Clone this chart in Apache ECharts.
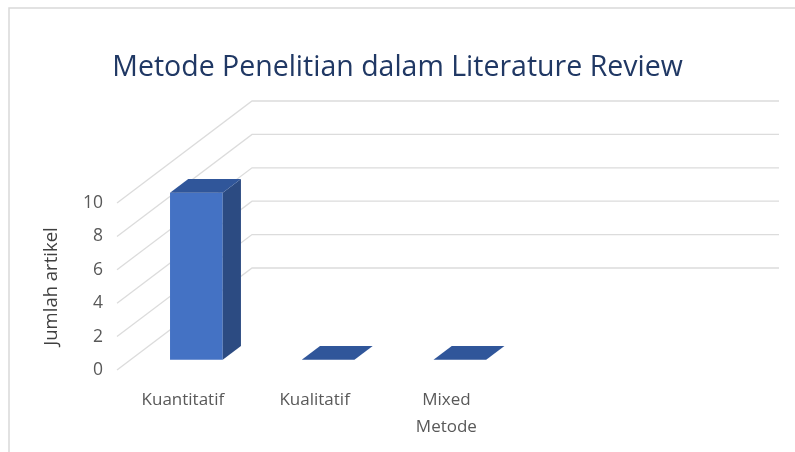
<!DOCTYPE html>
<html>
<head>
<meta charset="utf-8">
<script src="https://cdn.jsdelivr.net/npm/echarts@6/dist/echarts.min.js"></script>
<style>
  html, body { margin: 0; padding: 0; background: #fff; }
  #chart { width: 795px; height: 452px; }
</style>
</head>
<body>
<div id="chart"></div>
<script>
  // data
  const categories = ['Kuantitatif', 'Kualitatif', 'Mixed\nMetode', '']
  const values = [10, 0, 0]
  const yTicks = [0, 2, 4, 6, 8, 10]

  // oblique 3d projection: offset of the back wall from the front plane
  const DX = 135
  const DY = -102
  const T0 = 0.1   // bar front depth
  const T1 = 0.235 // bar back depth

  const chart = echarts.init(document.getElementById('chart'))

  const option = {
    backgroundColor: '#fff',
    animation: false,
    title: {
      text: 'Metode Penelitian dalam Literature Review',
      left: 'center',
      top: 48,
      textStyle: {
        fontFamily: 'Open Sans',
        fontWeight: 'normal',
        fontSize: 28.5,
        color: '#203864'
      }
    },
    graphic: [
      {
        type: 'polyline',
        shape: { points: [[9, 452], [9, 8], [795, 8]] },
        style: { stroke: '#d9d9d9', lineWidth: 1.5, fill: null }
      }
    ],
    grid: { left: 117, right: 151, top: 203, bottom: 82 },
    xAxis: {
      type: 'category',
      data: categories,
      axisLine: { show: false },
      axisTick: { show: false },
      axisLabel: {
        margin: 17,
        fontFamily: 'Open Sans',
        fontSize: 17,
        lineHeight: 27,
        color: '#595959'
      }
    },
    yAxis: {
      type: 'value',
      min: 0,
      max: 10,
      interval: 2,
      name: 'Jumlah artikel',
      nameLocation: 'middle',
      nameGap: 56,
      nameRotate: 90,
      nameTextStyle: { fontFamily: 'Open Sans', fontSize: 18.5, color: '#404040' },
      axisLine: { show: false },
      axisTick: { show: false },
      splitLine: { show: false },
      axisLabel: { margin: 14, fontFamily: 'Open Sans', fontSize: 17.5, color: '#595959' }
    },
    series: [
      {
        // side wall + back wall gridlines
        type: 'custom',
        silent: true,
        data: yTicks.map(v => [0, v]),
        renderItem: function (params, api) {
          const cs = params.coordSys
          const y = api.coord([0, api.value(1)])[1]
          const x0 = cs.x
          const x1 = cs.x + cs.width
          return {
            type: 'polyline',
            shape: { points: [[x0, y], [x0 + DX, y + DY], [x1 + DX, y + DY]] },
            style: { stroke: '#dcdcdc', lineWidth: 1.3, fill: null }
          }
        }
      },
      {
        type: 'custom',
        data: values.map((v, i) => [i, v]),
        renderItem: function (params, api) {
          const i = api.value(0)
          const base = api.coord([i, 0])
          const top = api.coord([i, api.value(1)])
          const w = api.size([1, 0])[0] * 0.4
          const ox = DX * T0
          const oy = DY * T0
          const ddx = DX * (T1 - T0)
          const ddy = DY * (T1 - T0)
          const xl = base[0] - w / 2 + ox
          const xr = base[0] + w / 2 + ox
          const yb = base[1] + oy
          const yt = top[1] + oy
          const children = []
          if (yb - yt > 0.5) {
            children.push({
              type: 'polygon',
              shape: { points: [[xl, yt], [xr, yt], [xr, yb], [xl, yb]] },
              style: { fill: '#4472c4' }
            })
            children.push({
              type: 'polygon',
              shape: { points: [[xr, yt], [xr + ddx, yt + ddy], [xr + ddx, yb + ddy], [xr, yb]] },
              style: { fill: '#2c4b82' }
            })
          }
          children.push({
            type: 'polygon',
            shape: { points: [[xl, yt], [xr, yt], [xr + ddx, yt + ddy], [xl + ddx, yt + ddy]] },
            style: { fill: '#30569a' }
          })
          return { type: 'group', children: children }
        }
      }
    ]
  }
  chart.setOption(option)
</script>
</body>
</html>
